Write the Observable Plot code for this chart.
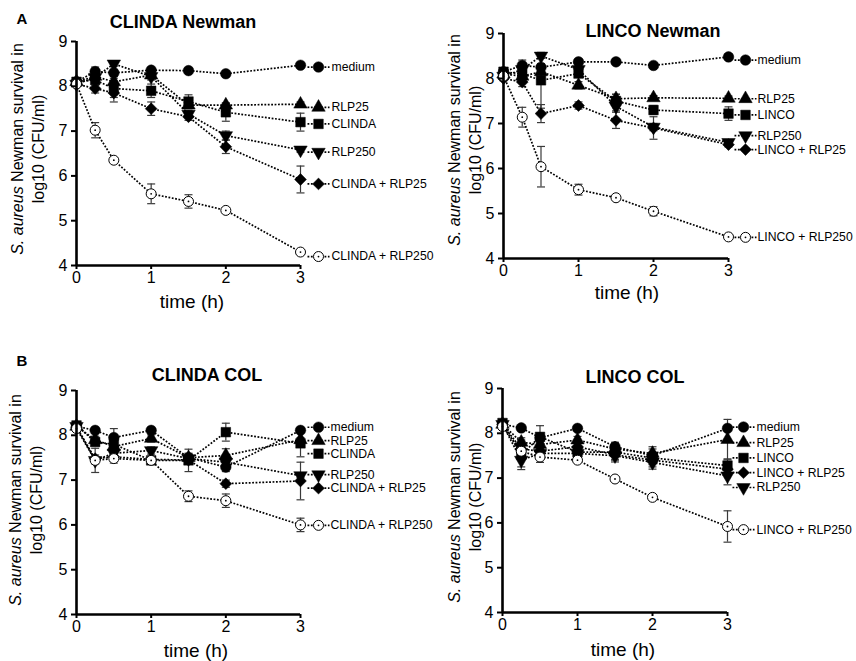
<!DOCTYPE html>
<html><head><meta charset="utf-8">
<script src="https://cdn.jsdelivr.net/npm/d3@7"></script>
<script src="https://cdn.jsdelivr.net/npm/@observablehq/plot@0.6"></script>
<style>
body{margin:0;background:#fff;font-family:"Liberation Sans",Arial,sans-serif;color:#000;}
#page{position:relative;width:856px;height:661px;overflow:hidden;background:#fff;}
.panel{position:absolute;}
.title{position:absolute;font-weight:bold;font-size:18px;transform:translate(-50%,-50%);white-space:nowrap;}
.letter{position:absolute;font-weight:bold;font-size:15px;transform:translate(-50%,-50%);}
.ylab{position:absolute;font-size:16px;white-space:nowrap;transform:translate(-50%,-50%) rotate(-90deg);text-align:center;line-height:21px;}
.xlab{position:absolute;font-size:19px;transform:translate(-50%,-50%);white-space:nowrap;}
</style></head>
<body>
<div id="page"></div>
<script>
// ---------- data ----------
const times = [0, 0.25, 0.5, 1, 1.5, 2, 3];
const yTicks = [4, 5, 6, 7, 8, 9];
const xTicks = [0, 1, 2, 3];

const clindaNewmanSeries = ["medium", "RLP25", "CLINDA", "RLP250", "CLINDA + RLP25", "CLINDA + RLP250"];
const clindaNewmanValues = [
  [8.10, 8.33, 8.30, 8.36, 8.35, 8.28, 8.47],
  [8.10, 8.22, 8.10, 8.25, 7.58, 7.58, 7.60],
  [8.10, 8.14, 7.95, 7.90, 7.66, 7.42, 7.20],
  [8.05, 8.20, 8.50, 8.22, 7.38, 6.90, 6.58],
  [8.05, 7.95, 7.85, 7.50, 7.32, 6.65, 5.92],
  [8.05, 7.02, 6.35, 5.60, 5.43, 5.23, 4.30]
];
const clindaNewmanErrors = [
  [0.05, 0.10, 0.08, 0.05, 0.05, 0.05, 0.05],
  [0.05, 0.10, 0.08, 0.08, 0.08, 0.05, 0.05],
  [0.05, 0.12, 0.30, 0.15, 0.15, 0.20, 0.20],
  [0.05, 0.08, 0.05, 0.08, 0.08, 0.10, 0.05],
  [0.05, 0.10, 0.10, 0.15, 0.08, 0.15, 0.30],
  [0.05, 0.17, 0.05, 0.22, 0.15, 0.05, 0.05]
];

const lincoNewmanSeries = ["medium", "RLP25", "LINCO", "RLP250", "LINCO + RLP25", "LINCO + RLP250"];
const lincoNewmanValues = [
  [8.15, 8.29, 8.25, 8.37, 8.37, 8.29, 8.48],
  [8.10, 8.05, 8.15, 7.85, 7.55, 7.57, 7.56],
  [8.15, 8.10, 7.96, 8.11, 7.50, 7.30, 7.22],
  [8.05, 8.20, 8.50, 8.20, 7.38, 6.92, 6.58],
  [8.00, 7.92, 7.22, 7.40, 7.07, 6.90, 6.53],
  [8.05, 7.14, 6.04, 5.53, 5.35, 5.05, 4.48]
];
const lincoNewmanErrors = [
  [0.05, 0.12, 0.08, 0.05, 0.05, 0.05, 0.05],
  [0.05, 0.10, 0.10, 0.08, 0.10, 0.05, 0.05],
  [0.05, 0.12, 0.62, 0.08, 0.15, 0.10, 0.15],
  [0.05, 0.10, 0.05, 0.08, 0.10, 0.08, 0.05],
  [0.05, 0.10, 0.20, 0.08, 0.18, 0.25, 0.05],
  [0.05, 0.22, 0.45, 0.12, 0.05, 0.10, 0.05]
];

const clindaColSeries = ["medium", "RLP25", "CLINDA", "RLP250", "CLINDA + RLP25", "CLINDA + RLP250"];
const clindaColValues = [
  [8.20, 8.11, 7.95, 8.11, 7.50, 7.29, 8.11],
  [8.20, 7.90, 7.75, 7.93, 7.50, 7.55, 7.90],
  [8.22, 7.85, 7.80, 7.44, 7.44, 8.07, 7.82],
  [8.20, 7.44, 7.60, 7.66, 7.48, 7.40, 7.10],
  [8.18, 7.48, 7.52, 7.46, 7.45, 6.92, 6.98],
  [8.15, 7.44, 7.48, 7.44, 6.64, 6.54, 6.00]
];
const clindaColErrors = [
  [0.05, 0.05, 0.20, 0.05, 0.08, 0.10, 0.05],
  [0.05, 0.08, 0.10, 0.08, 0.10, 0.15, 0.05],
  [0.05, 0.08, 0.10, 0.08, 0.25, 0.20, 0.30],
  [0.05, 0.27, 0.10, 0.08, 0.10, 0.10, 0.05],
  [0.05, 0.08, 0.10, 0.05, 0.10, 0.08, 0.42],
  [0.05, 0.08, 0.10, 0.05, 0.12, 0.15, 0.15]
];

const lincoColSeries = ["medium", "RLP25", "LINCO", "RLP250", "LINCO + RLP25", "LINCO + RLP250"];
const lincoColValues = [
  [8.20, 8.12, 7.90, 8.11, 7.70, 7.50, 8.11],
  [8.20, 7.80, 7.75, 7.85, 7.65, 7.55, 7.86],
  [8.23, 7.52, 7.92, 7.58, 7.58, 7.45, 7.28],
  [8.20, 7.40, 7.55, 7.55, 7.50, 7.35, 7.05],
  [8.20, 7.65, 7.60, 7.70, 7.52, 7.40, 7.20],
  [8.15, 7.60, 7.47, 7.40, 6.98, 6.57, 5.92]
];
const lincoColErrors = [
  [0.05, 0.05, 0.10, 0.05, 0.08, 0.08, 0.05],
  [0.05, 0.10, 0.10, 0.08, 0.10, 0.10, 0.45],
  [0.05, 0.33, 0.25, 0.10, 0.22, 0.25, 0.15],
  [0.05, 0.15, 0.10, 0.08, 0.10, 0.10, 0.20],
  [0.05, 0.10, 0.10, 0.08, 0.10, 0.10, 0.10],
  [0.05, 0.10, 0.12, 0.05, 0.05, 0.05, 0.35]
];

// ---------- layout (legend label heights, in y units) ----------
const clindaNewmanLegendY = [8.43, 7.53, 7.16, 6.53, 5.82, 4.20];
const lincoNewmanLegendY  = [8.41, 7.55, 7.19, 6.73, 6.42, 4.47];
const clindaColLegendY    = [8.18, 7.88, 7.59, 7.12, 6.82, 5.99];
const lincoColLegendY     = [8.14, 7.79, 7.45, 6.79, 7.12, 5.85];

// ---------- styles ----------
const markerStyles = [
  {symbol: "circle", r: 5.3, fill: "black"},
  {symbol: "triangle", r: 5.0, fill: "black", rotate: 0},
  {symbol: "square", r: 5.4, fill: "black"},
  {symbol: "triangle", r: 5.0, fill: "black", rotate: 180},
  {symbol: "square", r: 4.7, fill: "black", rotate: 45},
  {symbol: "circle", r: 5.0, fill: "white", open: true}
];
const capSymbol = {draw(ctx) { ctx.moveTo(-4, 0); ctx.lineTo(4, 0); }};
const dashSymbol = {draw(ctx) { ctx.moveTo(-11, 0); ctx.lineTo(11, 0); }};
const dash = "1.8,1.6";

function markerMarks(data, st, extra) {
  const o = Object.assign({symbol: st.symbol, r: st.r, fill: st.fill, stroke: "black",
    strokeWidth: st.open ? 1 : 0.5}, extra);
  if (st.rotate) o.rotate = st.rotate;
  const marks = [Plot.dot(data, o)];
  if (st.open) marks.push(Plot.dot(data, Object.assign({}, extra, {r: 0.9, fill: "black", stroke: "none"})));
  return marks;
}

function panel(cfg) {
  const rows = [];
  cfg.series.forEach((s, i) => times.forEach((t, j) =>
    rows.push({series: s, si: i, t, v: cfg.values[i][j], e: cfg.errors[i][j]})));
  const tLast = times[times.length - 1];
  const legend = cfg.series.map((s, i) => ({series: s, si: i, t: tLast, ly: cfg.legendY[i]}));
  const marks = [];
  // error bars
  marks.push(Plot.ruleX(rows, {x: "t", y1: d => d.v - d.e, y2: d => d.v + d.e, stroke: "#3a3a3a", strokeWidth: 1.2}));
  marks.push(Plot.dot(rows, {x: "t", y: d => d.v + d.e, symbol: capSymbol, r: 4, fill: "none", stroke: "#3a3a3a", strokeWidth: 1.2}));
  marks.push(Plot.dot(rows, {x: "t", y: d => d.v - d.e, symbol: capSymbol, r: 4, fill: "none", stroke: "#3a3a3a", strokeWidth: 1.2}));
  // dotted lines
  cfg.series.forEach((s, i) => {
    marks.push(Plot.line(rows.filter(d => d.si === i), {x: "t", y: "v", stroke: "black", strokeWidth: 1.7,
      strokeDasharray: dash, strokeLinecap: "butt", strokeLinejoin: "miter"}));
  });
  // markers
  cfg.series.forEach((s, i) => {
    marks.push(...markerMarks(rows.filter(d => d.si === i), markerStyles[i], {x: "t", y: "v"}));
  });
  // legend
  marks.push(Plot.dot(legend, {x: "t", y: "ly", dx: cfg.mdx, symbol: dashSymbol, r: 4, fill: "none", stroke: "black",
    strokeWidth: 1.7, strokeDasharray: dash, strokeLinecap: "butt"}));
  cfg.series.forEach((s, i) => {
    marks.push(...markerMarks(legend.filter(d => d.si === i), markerStyles[i], {x: "t", y: "ly", dx: cfg.mdx}));
  });
  marks.push(Plot.text(legend, {x: "t", y: "ly", text: "series", dx: cfg.tdx, textAnchor: "start", fontSize: 12.2, fill: "black"}));
  // axes
  marks.push(Plot.axisY({ticks: yTicks, tickFormat: d3.format("d"), tickSize: 5, tickPadding: 4, fontSize: 16, label: null, strokeWidth: 2}));
  marks.push(Plot.axisX({ticks: xTicks, tickFormat: d3.format("d"), tickSize: 4, tickPadding: 2, fontSize: 16, label: null, strokeWidth: 2}));
  marks.push(Plot.ruleX([0], {strokeWidth: 2.6}));
  marks.push(Plot.ruleY([4], {strokeWidth: 2.6}));

  const svg = Plot.plot({
    width: cfg.width, height: cfg.height,
    marginLeft: cfg.ml, marginRight: cfg.width - cfg.ml - cfg.pw,
    marginTop: cfg.mt, marginBottom: cfg.height - cfg.mt - cfg.ph,
    x: {domain: [0, 3]}, y: {domain: [4, 9]},
    style: {fontFamily: "Liberation Sans, Arial, sans-serif", background: "transparent", overflow: "visible", color: "black"},
    marks
  });
  const div = document.createElement("div");
  div.className = "panel";
  div.style.left = cfg.left + "px";
  div.style.top = cfg.top + "px";
  div.appendChild(svg);
  document.getElementById("page").appendChild(div);
}

function addText(cls, html, x, y) {
  const el = document.createElement("div");
  el.className = cls;
  el.innerHTML = html;
  el.style.left = x + "px";
  el.style.top = y + "px";
  document.getElementById("page").appendChild(el);
}

panel({series: clindaNewmanSeries, values: clindaNewmanValues, errors: clindaNewmanErrors, legendY: clindaNewmanLegendY,
  left: 0, top: 0, width: 428, height: 300, ml: 76, pw: 224, mt: 41, ph: 224, mdx: 18, tdx: 31});
panel({series: lincoNewmanSeries, values: lincoNewmanValues, errors: lincoNewmanErrors, legendY: lincoNewmanLegendY,
  left: 428, top: 0, width: 428, height: 300, ml: 75, pw: 225, mt: 33, ph: 225, mdx: 17, tdx: 29});
panel({series: clindaColSeries, values: clindaColValues, errors: clindaColErrors, legendY: clindaColLegendY,
  left: 0, top: 330, width: 428, height: 310, ml: 76, pw: 224, mt: 60, ph: 224, mdx: 18, tdx: 30});
panel({series: lincoColSeries, values: lincoColValues, errors: lincoColErrors, legendY: lincoColLegendY,
  left: 428, top: 330, width: 428, height: 310, ml: 74, pw: 225, mt: 58, ph: 224, mdx: 16, tdx: 29});

const ylabHTML = "<i>S. aureus</i> Newman survival in<br>log10 (CFU/ml)";
addText("ylab", ylabHTML, 28, 149);
addText("ylab", ylabHTML, 465, 140);
addText("ylab", ylabHTML, 26, 500);
addText("ylab", ylabHTML, 465, 497);
addText("xlab", "time (h)", 192, 302);
addText("xlab", "time (h)", 627, 293);
addText("xlab", "time (h)", 196, 651);
addText("xlab", "time (h)", 623, 650);
addText("title", "CLINDA Newman", 183, 22);
addText("title", "LINCO Newman", 653, 31);
addText("title", "CLINDA COL", 207, 375);
addText("title", "LINCO COL", 635, 377);
addText("letter", "A", 22, 18);
addText("letter", "B", 22, 360);
</script>
</body></html>
